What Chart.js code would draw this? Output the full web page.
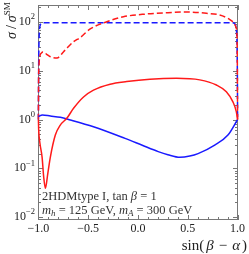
<!DOCTYPE html>
<html>
<head>
<meta charset="utf-8">
<script src="https://cdn.jsdelivr.net/npm/chart.js@4"></script>
<style>
html, body { margin: 0; padding: 0; background: #fff; }
</style>
</head>
<body>
<canvas id="grafico" width="249" height="254"></canvas>
<script>
// datos (sin(beta - alpha) vs sigma/sigma_SM)
const xRojoSolido = [-1, -0.997, -0.985, -0.963, -0.947, -0.93, -0.905, -0.88, -0.83, -0.78, -0.713, -0.647, -0.547, -0.447, -0.28, -0.113, 0.12, 0.387, 0.62, 0.787, 0.887, 0.953, 0.987, 1];
const yRojoSolido = [1.0, 0.61, 0.33, 0.17, 0.067, 0.039, 0.08, 0.17, 0.48, 0.77, 1.07, 1.7, 2.9, 4.0, 5.3, 6.0, 6.7, 7.0, 6.5, 5.1, 3.7, 2.3, 1.45, 1.0];

const xAzulSolido = [-1, -0.96, -0.88, -0.78, -0.68, -0.447, -0.13, 0.037, 0.203, 0.3, 0.42, 0.52, 0.603, 0.77, 0.903, 1];
const yAzulSolido = [1.15, 1.24, 1.18, 1.11, 0.98, 0.71, 0.41, 0.30, 0.22, 0.19, 0.168, 0.178, 0.20, 0.30, 0.48, 1.0];

const xRojoRayado = [-1, -0.998, -0.993, -0.985, -0.97, -0.955, -0.92, -0.88, -0.813, -0.747, -0.647, -0.58, -0.48, -0.313, -0.147, 0.087, 0.287, 0.487, 0.687, 0.82, 0.903, 0.953, 0.987, 0.996, 1];
const yRojoRayado = [1, 6, 14, 20, 23, 24.3, 22, 19.4, 18.3, 24.6, 39.4, 48, 72, 101, 128, 146, 155, 160, 151, 139, 119, 101, 74, 30, 1];

const xAzulRayado = [-1, -0.998, -0.995, -0.99, -0.98, -0.97, -0.95, 0.95, 0.97, 0.98, 0.99, 0.995, 0.998, 1];
const yAzulRayado = [1, 8, 30, 65, 88, 94, 96, 96, 93, 84, 60, 28, 7, 1];

const ticksX = [-1, -0.5, 0, 0.5, 1];
const etiquetasX = ['\u22121.0', '\u22120.5', '0.0', '0.5', '1.0'];
const ticksY = [0.01, 0.1, 1, 10, 100];
const exponentesY = ['\u22122', '\u22121', '0', '1', '2'];

const FUENTE = "'Liberation Serif', 'DejaVu Serif', serif";

function puntos(xs, ys) {
    return xs.map((x, i) => ({ x: x, y: ys[i] }));
}

function escribir(ctx, x, y, partes) {
    partes.forEach(p => {
        ctx.font = p.f;
        ctx.fillText(p.t, x, y + (p.dy || 0));
        x += ctx.measureText(p.t).width + (p.gap || 0);
    });
    return x;
}

function ancho(ctx, partes) {
    let w = 0;
    partes.forEach(p => {
        ctx.font = p.f;
        w += ctx.measureText(p.t).width + (p.gap || 0);
    });
    return w;
}

const marcoPlugin = {
    id: 'marco',
    beforeDatasetsDraw(chart) {
        const ctx = chart.ctx;
        const a = chart.chartArea;
        const sx = chart.scales.x;
        const sy = chart.scales.y;
        ctx.save();

        // marco
        ctx.strokeStyle = '#777';
        ctx.lineWidth = 1;
        ctx.strokeRect(a.left + 0.5, a.top + 0.5, a.right - a.left - 1, a.bottom - a.top - 1);

        // ticks hacia dentro, eje y (log)
        ctx.beginPath();
        for (let d = -3; d <= 2; d++) {
            for (let m = 1; m <= 9; m++) {
                const v = m * Math.pow(10, d);
                if (v < sy.min || v > sy.max) continue;
                const py = Math.round(sy.getPixelForValue(v)) + 0.5;
                const len = m === 1 ? 5 : 3;
                ctx.moveTo(a.left, py); ctx.lineTo(a.left + len, py);
                ctx.moveTo(a.right, py); ctx.lineTo(a.right - len, py);
            }
        }
        // eje x
        for (let i = -10; i <= 10; i++) {
            const px = Math.round(sx.getPixelForValue(i / 10)) + 0.5;
            const len = i % 5 === 0 ? 5 : 3;
            ctx.moveTo(px, a.bottom); ctx.lineTo(px, a.bottom - len);
            ctx.moveTo(px, a.top); ctx.lineTo(px, a.top + len);
        }
        ctx.stroke();
        ctx.restore();
    },
    afterDraw(chart) {
        const ctx = chart.ctx;
        const a = chart.chartArea;
        const sy = chart.scales.y;
        ctx.save();

        // etiquetas eje y con exponente
        ctx.fillStyle = '#222';
        ctx.textBaseline = 'middle';
        ticksY.forEach((v, i) => {
            const py = sy.getPixelForValue(v);
            const partes = [
                { t: '10', f: '12px ' + FUENTE },
                { t: exponentesY[i], f: '8.5px ' + FUENTE, dy: -5 }
            ];
            const w = ancho(ctx, partes);
            escribir(ctx, a.left - 3 - w, py, partes);
        });

        // titulo eje y
        ctx.save();
        ctx.translate(16, 39);
        ctx.rotate(-Math.PI / 2);
        ctx.textBaseline = 'alphabetic';
        escribir(ctx, 0, 0, [
            { t: '\u03c3', f: 'italic 14px ' + FUENTE, gap: 3 },
            { t: '/', f: '14px ' + FUENTE, gap: 3 },
            { t: '\u03c3', f: 'italic 14px ' + FUENTE },
            { t: 'SM', f: '9px ' + FUENTE, dy: -6 }
        ]);
        ctx.restore();

        // titulo eje x
        ctx.textBaseline = 'alphabetic';
        const tituloX = [
            { t: 'sin(', f: '15px ' + FUENTE, gap: 2 },
            { t: '\u03b2', f: 'italic 15px ' + FUENTE, gap: 5 },
            { t: '\u2212', f: '15px ' + FUENTE, gap: 5 },
            { t: '\u03b1', f: 'italic 15px ' + FUENTE, gap: 2 },
            { t: ')', f: '15px ' + FUENTE }
        ];
        escribir(ctx, 247 - ancho(ctx, tituloX), 250, tituloX);

        // texto dentro del grafico
        ctx.fillStyle = '#333';
        escribir(ctx, a.left + 4, 200, [
            { t: '2HDMtype I, tan ', f: '12.5px ' + FUENTE },
            { t: '\u03b2', f: 'italic 12.5px ' + FUENTE },
            { t: ' = 1', f: '12.5px ' + FUENTE }
        ]);
        escribir(ctx, a.left + 4, 214, [
            { t: 'm', f: 'italic 12.5px ' + FUENTE },
            { t: 'h', f: 'italic 9px ' + FUENTE, dy: 2 },
            { t: ' = 125 GeV, ', f: '12.5px ' + FUENTE },
            { t: 'm', f: 'italic 12.5px ' + FUENTE },
            { t: 'A', f: 'italic 9px ' + FUENTE, dy: 2 },
            { t: ' = 300 GeV', f: '12.5px ' + FUENTE }
        ]);

        ctx.restore();
    }
};

function serie(datos, color, rayado) {
    return {
        data: datos,
        borderColor: color,
        borderWidth: 1.5,
        borderDash: rayado ? [6, 3] : [],
        pointRadius: 0,
        fill: false,
        clip: 3,
        cubicInterpolationMode: 'monotone'
    };
}

new Chart(document.getElementById('grafico').getContext('2d'), {
    type: 'line',
    data: {
        datasets: [
            serie(puntos(xRojoSolido, yRojoSolido), '#ff1a1a', false),
            serie(puntos(xAzulSolido, yAzulSolido), '#1a1aff', false),
            serie(puntos(xRojoRayado, yRojoRayado), '#ff1a1a', true),
            serie(puntos(xAzulRayado, yAzulRayado), '#1a1aff', true)
        ]
    },
    options: {
        responsive: false,
        animation: false,
        devicePixelRatio: 1,
        layout: { padding: { top: 5, right: 11, left: 0, bottom: 0 } },
        plugins: {
            legend: { display: false },
            tooltip: { enabled: false }
        },
        scales: {
            x: {
                type: 'linear',
                min: -1.004,
                max: 1.004,
                grid: { display: false, drawTicks: false },
                border: { display: false },
                afterBuildTicks: function(scale) {
                    scale.ticks = ticksX.map(v => ({ value: v }));
                },
                afterFit: function(scale) {
                    scale.height = 34;
                },
                ticks: {
                    padding: 2,
                    maxRotation: 0,
                    autoSkip: false,
                    color: '#222',
                    font: { family: FUENTE, size: 12 },
                    callback: function(value) {
                        return etiquetasX[ticksX.indexOf(value)];
                    }
                }
            },
            y: {
                type: 'logarithmic',
                min: 0.0087,
                max: 223,
                grid: { display: false, drawTicks: false },
                border: { display: false },
                afterFit: function(scale) {
                    scale.width = 38;
                },
                ticks: { display: false }
            }
        }
    },
    plugins: [marcoPlugin]
});
</script>
</body>
</html>
